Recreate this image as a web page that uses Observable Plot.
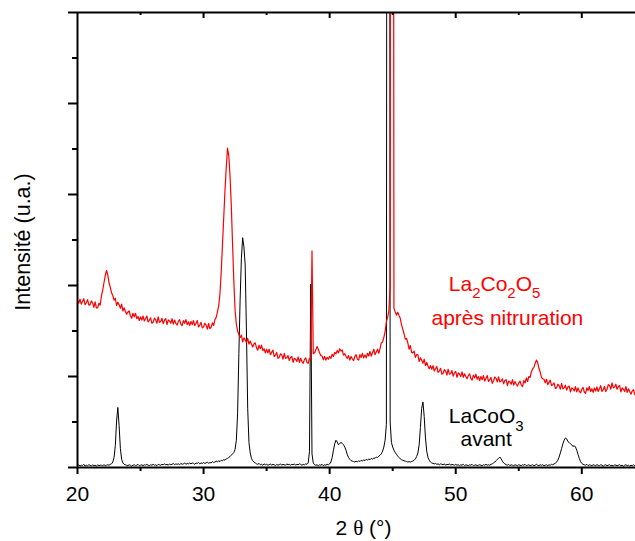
<!DOCTYPE html>
<html>
<head>
<meta charset="utf-8">
<script src="https://cdn.jsdelivr.net/npm/d3@7"></script>
<script src="https://cdn.jsdelivr.net/npm/@observablehq/plot@0.6"></script>
<style>
  html, body { margin: 0; padding: 0; background: #fff; }
</style>
</head>
<body>
<div id="chart"></div>
<script>
// ---- data (2θ grid: 20.0° .. 64.3°, step 0.1°) ----
const thetaStart = 20.0;
const thetaStep = 0.1;

// LaCoO3 (avant) – black
const intensiteAvant = [
  0.04,0.06,0.03,0.05,0.04,0.07,0.03,0.05,0.04,0.06,
  0.05,0.03,0.06,0.04,0.05,0.03,0.06,0.04,0.05,0.05,
  0.04,0.06,0.04,0.05,0.06,0.05,0.07,0.08,0.12,0.22,
  0.48,1.02,1.32,0.92,0.42,0.18,0.10,0.07,0.06,0.05,
  0.04,0.06,0.05,0.03,0.05,0.06,0.04,0.05,0.07,0.04,
  0.05,0.06,0.04,0.06,0.05,0.07,0.05,0.04,0.06,0.05,
  0.07,0.05,0.06,0.04,0.07,0.06,0.05,0.07,0.06,0.08,
  0.06,0.07,0.05,0.08,0.06,0.07,0.09,0.06,0.08,0.07,
  0.08,0.06,0.09,0.07,0.08,0.10,0.07,0.09,0.08,0.10,
  0.08,0.10,0.09,0.07,0.10,0.09,0.11,0.08,0.10,0.09,
  0.11,0.09,0.10,0.12,0.09,0.11,0.10,0.13,0.11,0.12,
  0.14,0.12,0.15,0.13,0.16,0.15,0.17,0.16,0.19,0.20,
  0.22,0.24,0.27,0.30,0.33,0.40,0.60,1.20,2.50,3.70,
  4.60,5.05,4.85,4.45,3.00,1.30,0.55,0.32,0.20,0.15,
  0.12,0.10,0.08,0.07,0.09,0.06,0.07,0.05,0.08,0.06,
  0.07,0.05,0.06,0.08,0.05,0.07,0.06,0.04,0.07,0.05,
  0.06,0.08,0.05,0.07,0.06,0.05,0.08,0.06,0.07,0.05,
  0.07,0.06,0.08,0.05,0.07,0.06,0.08,0.07,0.05,0.07,
  0.06,0.08,0.07,0.10,0.35,4.03,0.30,0.10,0.06,0.05,
  0.06,0.04,0.06,0.05,0.07,0.04,0.06,0.05,0.07,0.06,
  0.08,0.12,0.22,0.38,0.52,0.60,0.56,0.50,0.53,0.55,
  0.53,0.50,0.45,0.38,0.28,0.22,0.18,0.15,0.14,0.13,
  0.12,0.14,0.12,0.15,0.13,0.16,0.14,0.17,0.15,0.18,
  0.16,0.19,0.17,0.20,0.18,0.21,0.20,0.23,0.22,0.25,
  0.27,0.30,0.36,0.45,0.60,0.95,40,40,1.00,0.55,
  0.45,0.38,0.33,0.29,0.25,0.22,0.19,0.17,0.16,0.15,
  0.14,0.13,0.12,0.13,0.12,0.13,0.14,0.16,0.19,0.24,
  0.32,0.50,0.88,1.30,1.44,1.12,0.65,0.36,0.22,0.16,
  0.12,0.10,0.09,0.08,0.09,0.07,0.08,0.06,0.08,0.07,
  0.06,0.08,0.05,0.07,0.06,0.08,0.05,0.07,0.06,0.05,
  0.07,0.05,0.06,0.04,0.06,0.05,0.07,0.04,0.06,0.05,
  0.04,0.06,0.05,0.07,0.04,0.05,0.06,0.04,0.05,0.06,
  0.05,0.04,0.06,0.05,0.07,0.05,0.06,0.05,0.07,0.08,
  0.10,0.12,0.15,0.18,0.20,0.23,0.19,0.14,0.10,0.08,
  0.06,0.05,0.07,0.04,0.06,0.05,0.04,0.06,0.05,0.04,
  0.06,0.05,0.04,0.06,0.05,0.07,0.04,0.05,0.06,0.04,
  0.05,0.06,0.04,0.05,0.07,0.05,0.04,0.06,0.05,0.06,
  0.04,0.05,0.06,0.04,0.06,0.05,0.07,0.06,0.08,0.09,
  0.12,0.16,0.23,0.32,0.42,0.52,0.60,0.65,0.63,0.57,
  0.55,0.52,0.50,0.46,0.48,0.45,0.38,0.29,0.20,0.13,
  0.09,0.07,0.06,0.05,0.07,0.04,0.06,0.05,0.04,0.06,
  0.05,0.04,0.06,0.05,0.04,0.06,0.05,0.03,0.05,0.06,
  0.04,0.05,0.06,0.04,0.05,0.03,0.06,0.05,0.04,0.05,
  0.06,0.04,0.05,0.03,0.05,0.06,0.04,0.05,0.03,0.05,
  0.04,0.06,0.04,0.05
];

// La2Co2O5 (après nitruration) – red
const intensiteApres = [
  3.68,3.61,3.70,3.59,3.65,3.71,3.58,3.62,3.69,3.57,
  3.58,3.66,3.62,3.52,3.64,3.51,3.51,3.61,3.57,3.77,
  3.90,4.06,4.22,4.33,4.24,4.06,3.96,3.84,3.78,3.68,
  3.72,3.56,3.63,3.58,3.50,3.59,3.44,3.51,3.43,3.37,
  3.42,3.44,3.33,3.28,3.39,3.31,3.39,3.27,3.32,3.23,
  3.31,3.24,3.33,3.22,3.27,3.33,3.20,3.24,3.29,3.17,
  3.19,3.28,3.25,3.17,3.31,3.19,3.21,3.28,3.16,3.24,
  3.27,3.14,3.24,3.22,3.17,3.27,3.15,3.24,3.17,3.13,
  3.21,3.25,3.15,3.12,3.23,3.17,3.25,3.14,3.20,3.12,
  3.21,3.14,3.23,3.12,3.17,3.23,3.09,3.13,3.19,3.07,
  3.09,3.17,3.13,3.04,3.17,3.05,3.08,3.18,3.12,3.25,
  3.30,3.42,3.55,3.82,4.30,4.90,5.50,6.10,6.60,7.02,
  6.85,6.40,5.75,4.90,4.10,3.45,3.15,3.00,2.92,2.86,
  2.91,2.76,2.85,2.81,2.75,2.84,2.71,2.78,2.71,2.65,
  2.72,2.74,2.63,2.58,2.69,2.61,2.69,2.57,2.61,2.52,
  2.60,2.52,2.60,2.48,2.53,2.58,2.44,2.47,2.53,2.40,
  2.42,2.50,2.47,2.38,2.51,2.40,2.41,2.46,2.35,2.42,
  2.44,2.31,2.40,2.38,2.33,2.43,2.31,2.40,2.33,2.29,
  2.37,2.41,2.31,2.29,2.40,2.38,4.76,2.50,2.52,2.58,
  2.66,2.60,2.52,2.46,2.45,2.37,2.44,2.36,2.42,2.38,
  2.44,2.40,2.49,2.44,2.53,2.50,2.57,2.52,2.61,2.56,
  2.58,2.47,2.50,2.44,2.40,2.46,2.36,2.44,2.39,2.35,
  2.44,2.48,2.38,2.36,2.48,2.42,2.51,2.41,2.47,2.41,
  2.51,2.45,2.55,2.45,2.52,2.60,2.48,2.54,2.60,2.51,
  2.62,2.74,2.76,2.86,2.99,3.20,3.30,3.45,4.00,40,
  40,3.50,3.42,3.35,3.41,3.34,3.28,3.14,3.04,2.94,
  2.82,2.84,2.74,2.60,2.68,2.53,2.52,2.56,2.42,2.48,
  2.48,2.33,2.41,2.36,2.29,2.38,2.24,2.31,2.23,2.17,
  2.24,2.16,2.24,2.12,2.17,2.22,2.09,2.12,2.18,2.05,
  2.07,2.15,2.12,2.03,2.16,2.05,2.06,2.13,2.01,2.08,
  2.11,1.98,2.08,2.05,2.00,2.10,1.98,2.06,2.00,1.95,
  2.02,2.06,1.96,1.92,2.03,1.97,2.05,1.94,2.00,1.91,
  2.00,1.93,2.02,1.90,1.96,2.02,1.89,1.93,1.98,1.85,
  1.90,1.99,1.96,1.88,1.99,1.88,1.90,1.95,1.84,1.91,
  1.93,1.80,1.90,1.88,1.83,1.93,1.81,1.89,1.83,1.79,
  1.86,1.90,1.81,1.78,1.91,1.86,1.97,1.89,2.00,1.98,
  2.10,2.17,2.20,2.29,2.36,2.31,2.18,2.10,1.98,1.95,
  1.94,1.86,1.94,1.82,1.87,1.92,1.80,1.82,1.86,1.74,
  1.75,1.83,1.80,1.72,1.85,1.73,1.75,1.81,1.70,1.77,
  1.79,1.66,1.75,1.73,1.68,1.78,1.66,1.75,1.68,1.64,
  1.72,1.76,1.66,1.63,1.75,1.69,1.78,1.67,1.73,1.65,
  1.75,1.68,1.77,1.67,1.73,1.80,1.67,1.71,1.78,1.67,
  1.72,1.82,1.80,1.72,1.86,1.75,1.77,1.83,1.72,1.78,
  1.80,1.66,1.75,1.72,1.67,1.78,1.65,1.73,1.67,1.61,
  1.68,1.71,1.61,1.57
];

// axis ticks
const xTicksMajor = [20, 30, 40, 50, 60];
const xTicksMinor = [25, 35, 45, 55];
const xTicksTopMajor = [30, 40, 50, 60];
const yTicksMajor = [0, 2, 4, 6, 8, 10];
const yTicksMinor = [1, 3, 5, 7, 9];

// texts
const xTitle = "2 θ (°)";
const yTitle = "Intensité (u.a.)";
const annText = ["La2Co2O5", "après nitruration", "LaCoO3", "avant"];
const annX = [49.45, 48.08, 49.45, 50.38];
const annY = [4.02, 3.27, 1.13, 0.62];
const annColor = ["red", "red", "black", "black"];

// ---- build tables ----
const toRows = (arr) => arr.map((v, i) => ({x: +(thetaStart + i * thetaStep).toFixed(1), y: v}));
const avant = toRows(intensiteAvant);
const apres = toRows(intensiteApres);
const annotations = annText.map((t, i) => ({text: t, x: annX[i], y: annY[i], color: annColor[i]}));

const FONT = "'Liberation Sans', Arial, Helvetica, sans-serif";
const H = 541, MT = 12, MB = 74;
const frameH = H - MT - MB;

const chart = Plot.plot({
  width: 635,
  height: H,
  marginLeft: 77,
  marginRight: 0,
  marginTop: MT,
  marginBottom: MB,
  style: {fontFamily: FONT, fontSize: "21px", color: "black", background: "white", overflow: "visible"},
  x: {domain: [20, 64.26], label: null},
  y: {domain: [0, 10], label: null},
  marks: [
    Plot.line(avant, {x: "x", y: "y", stroke: "black", strokeWidth: 1, clip: true}),
    Plot.line(apres, {x: "x", y: "y", stroke: "red", strokeWidth: 1.2, clip: true}),
    // frame lines
    Plot.ruleX([20], {stroke: "black", strokeWidth: 2}),
    Plot.ruleY([0], {stroke: "black", strokeWidth: 2}),
    Plot.ruleY([10], {stroke: "black", strokeWidth: 2}),
    // bottom axis
    Plot.axisX({ticks: xTicksMajor, tickSize: 7, tickPadding: 12, fontSize: 21, strokeWidth: 2, label: null}),
    Plot.axisX({ticks: xTicksMinor, tickSize: 4, tickFormat: () => "", strokeWidth: 2, label: null}),
    // top axis (inward ticks)
    Plot.ruleX(xTicksTopMajor, {stroke: "black", strokeWidth: 2, insetBottom: frameH - 6}),
    Plot.ruleX(xTicksMinor, {stroke: "black", strokeWidth: 2, insetBottom: frameH - 3}),
    // left axis
    Plot.axisY({ticks: yTicksMajor, tickSize: 9, tickFormat: () => "", strokeWidth: 2, label: null}),
    Plot.axisY({ticks: yTicksMinor, tickSize: 5, tickFormat: () => "", strokeWidth: 2, label: null}),
    // titles
    Plot.text([xTitle], {frameAnchor: "bottom", dx: 7, dy: 60.5, fontSize: 21, fill: "black", textAnchor: "middle", lineAnchor: "middle"}),
    Plot.text([yTitle], {frameAnchor: "left", dx: -54, dy: 2, rotate: -90, fontSize: 21.5, fill: "black", textAnchor: "middle", lineAnchor: "middle"}),
    // annotations
    Plot.text(annotations, {x: "x", y: "y", text: "text", fill: "color", textAnchor: "start", lineAnchor: "middle", fontSize: 21})
  ]
});

const ns = "http://www.w3.org/2000/svg";
for (const t of chart.querySelectorAll("text")) {
  const s = t.textContent;
  // subscripts for chemical formulas
  if (annText.includes(s) && /\d/.test(s)) {
    const parts = s.match(/\D+|\d+/g);
    while (t.firstChild) t.removeChild(t.firstChild);
    const shift = s === "LaCoO3" ? 8 : 7;
    let inSub = false;
    for (const p of parts) {
      const ts = document.createElementNS(ns, "tspan");
      ts.textContent = p;
      if (/\d/.test(p)) {
        ts.setAttribute("font-size", "15");
        ts.setAttribute("dy", shift);
        inSub = true;
      } else if (inSub) {
        ts.setAttribute("dy", -shift);
        inSub = false;
      }
      t.appendChild(ts);
    }
  }
  // serif theta in the x title
  if (s === xTitle) {
    const parts = s.split(/(θ)/);
    while (t.firstChild) t.removeChild(t.firstChild);
    for (const p of parts) {
      const ts = document.createElementNS(ns, "tspan");
      ts.textContent = p;
      if (p === "θ") ts.setAttribute("font-family", "'Liberation Serif', 'DejaVu Serif', serif");
      t.appendChild(ts);
    }
  }
}

document.getElementById("chart").appendChild(chart);
</script>
</body>
</html>
